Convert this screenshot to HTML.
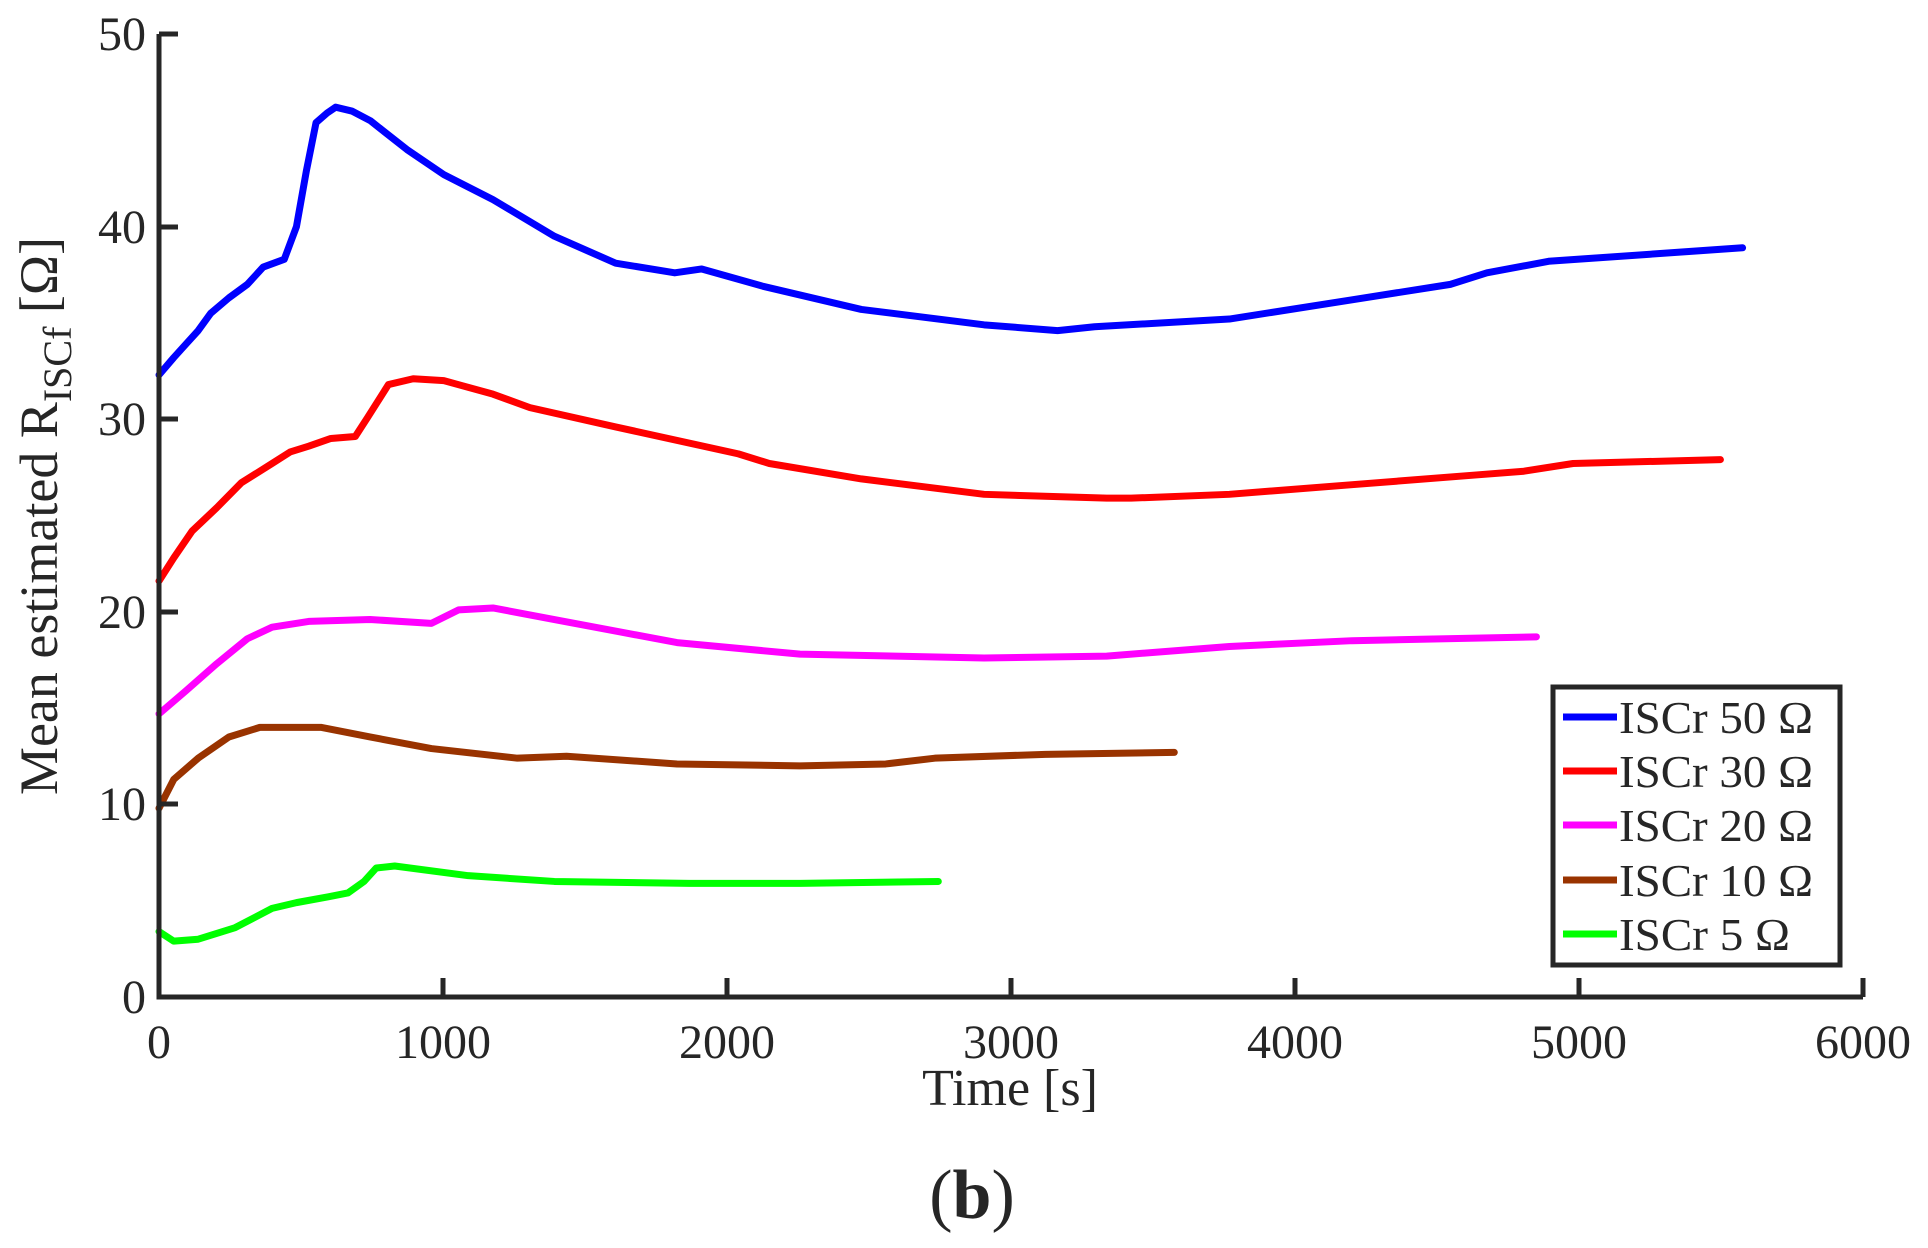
<!DOCTYPE html>
<html><head><meta charset="utf-8"><style>
html,body{margin:0;padding:0;background:#fff;}
svg{display:block;}
text{font-family:"Liberation Serif",serif;fill:#262626;}
</style></head><body>
<svg width="1928" height="1248" viewBox="0 0 1928 1248" xmlns="http://www.w3.org/2000/svg">
<rect width="1928" height="1248" fill="#fff"/>
<g transform="translate(159,997) scale(0.284,-19.26)" fill="none" stroke-width="7" stroke-linejoin="round" stroke-linecap="round">
<polyline vector-effect="non-scaling-stroke" stroke="#0000ff" points="0,32.3 52,33.2 95,33.9 138,34.6 182,35.5 246,36.3 311,37 367,37.9 441,38.3 484,40 519,42.9 553,45.4 592,45.9 622,46.2 679,46 744,45.5 873,44 1003,42.7 1176,41.4 1392,39.5 1608,38.1 1816,37.6 1911,37.8 2127,36.9 2473,35.7 2905,34.9 3164,34.6 3294,34.8 3769,35.2 4201,36.2 4547,37 4676,37.6 4893,38.2 5576,38.9"/>
<polyline vector-effect="non-scaling-stroke" stroke="#ff0000" points="0,21.6 52,22.8 117,24.2 203,25.4 290,26.7 398,27.7 462,28.3 527,28.6 605,29 691,29.1 735,30.1 808,31.8 895,32.1 1003,32 1176,31.3 1306,30.6 1608,29.6 2040,28.2 2149,27.7 2473,26.9 2905,26.1 3337,25.9 3423,25.9 3769,26.1 4201,26.6 4633,27.1 4806,27.3 4979,27.7 5498,27.9"/>
<polyline vector-effect="non-scaling-stroke" stroke="#ff00ff" points="0,14.7 95,15.9 203,17.3 311,18.6 398,19.2 527,19.5 743,19.6 959,19.4 1055,20.1 1176,20.2 1392,19.6 1824,18.4 2257,17.8 2905,17.6 3337,17.7 3769,18.2 4201,18.5 4850,18.7"/>
<polyline vector-effect="non-scaling-stroke" stroke="#993300" points="0,9.8 52,11.3 138,12.4 246,13.5 355,14 570,14 743,13.5 959,12.9 1262,12.4 1435,12.5 1824,12.1 2257,12 2559,12.1 2732,12.4 3121,12.6 3575,12.7"/>
<polyline vector-effect="non-scaling-stroke" stroke="#00ff00" points="0,3.4 52,2.9 138,3 268,3.6 398,4.6 484,4.9 596,5.2 665,5.4 722,6 765,6.7 830,6.8 1089,6.3 1392,6 1868,5.9 2257,5.9 2744,6"/>
</g>
<g stroke="#262626" stroke-width="5" fill="none">
<polyline points="159,34 159,997 1863,997"/>
<line x1="159" y1="34" x2="178" y2="34"/>
<line x1="159" y1="227" x2="178" y2="227"/>
<line x1="159" y1="419" x2="178" y2="419"/>
<line x1="159" y1="612" x2="178" y2="612"/>
<line x1="159" y1="804" x2="178" y2="804"/>
<line x1="443" y1="997" x2="443" y2="978"/>
<line x1="727" y1="997" x2="727" y2="978"/>
<line x1="1011" y1="997" x2="1011" y2="978"/>
<line x1="1295" y1="997" x2="1295" y2="978"/>
<line x1="1579" y1="997" x2="1579" y2="978"/>
<line x1="1863" y1="997" x2="1863" y2="978"/>
</g>
<g font-size="48" text-anchor="end">
<text x="146" y="50">50</text>
<text x="146" y="243">40</text>
<text x="146" y="435">30</text>
<text x="146" y="628">20</text>
<text x="146" y="820">10</text>
<text x="146" y="1013">0</text>
</g>
<g font-size="48" text-anchor="middle">
<text x="159" y="1058">0</text>
<text x="443" y="1058">1000</text>
<text x="727" y="1058">2000</text>
<text x="1011" y="1058">3000</text>
<text x="1295" y="1058">4000</text>
<text x="1579" y="1058">5000</text>
<text x="1863" y="1058">6000</text>
<text x="1010" y="1105" font-size="52">Time [s]</text>
<text x="972" y="1218" font-size="70" fill="#000">(<tspan font-weight="bold">b</tspan>)</text>
</g>
<text transform="translate(57,516) rotate(-90)" text-anchor="middle" font-size="54">Mean estimated R<tspan font-size="40" dy="14">ISCf</tspan><tspan dy="-14"> [Ω]</tspan></text>
<rect x="1553" y="687" width="287" height="278" fill="#fff" stroke="#262626" stroke-width="5"/>
<g stroke-width="7">
<line x1="1563" y1="717" x2="1617" y2="717" stroke="#0000ff"/>
<line x1="1563" y1="771" x2="1617" y2="771" stroke="#ff0000"/>
<line x1="1563" y1="825" x2="1617" y2="825" stroke="#ff00ff"/>
<line x1="1563" y1="880" x2="1617" y2="880" stroke="#993300"/>
<line x1="1563" y1="934" x2="1617" y2="934" stroke="#00ff00"/>
</g>
<g font-size="46">
<text x="1619" y="733" fill="#000" textLength="194" lengthAdjust="spacingAndGlyphs">ISCr 50 Ω</text>
<text x="1619" y="787" fill="#000" textLength="194" lengthAdjust="spacingAndGlyphs">ISCr 30 Ω</text>
<text x="1619" y="841" fill="#000" textLength="194" lengthAdjust="spacingAndGlyphs">ISCr 20 Ω</text>
<text x="1619" y="896" fill="#000" textLength="194" lengthAdjust="spacingAndGlyphs">ISCr 10 Ω</text>
<text x="1619" y="950" fill="#000" textLength="171" lengthAdjust="spacingAndGlyphs">ISCr 5 Ω</text>
</g>
</svg>
</body></html>
